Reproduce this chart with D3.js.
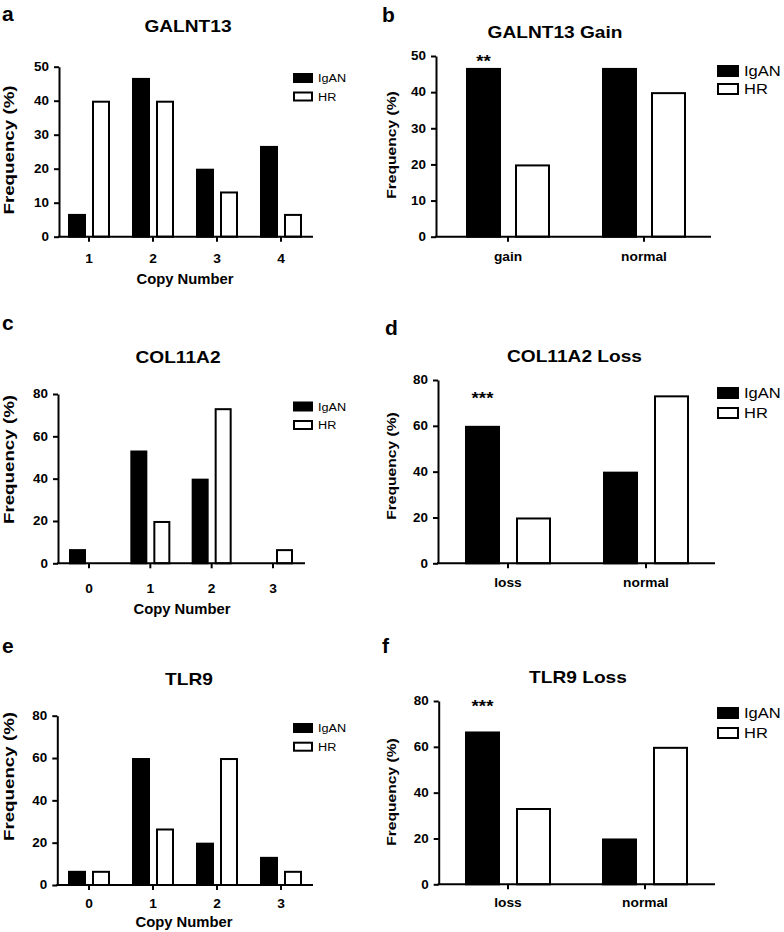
<!DOCTYPE html>
<html><head><meta charset="utf-8">
<script src="https://cdn.jsdelivr.net/npm/d3@7"></script>
<style>body{margin:0;background:#fff}svg{display:block}</style>
</head><body><svg id="c" width="784" height="932"></svg>
<script>
// ---------- data ----------
const seriesNames = ["IgAN", "HR"];
const copyNumA = ["1", "2", "3", "4"];
const copyNumCE = ["0", "1", "2", "3"];
const gainCats = ["gain", "normal"];
const lossCats = ["loss", "normal"];
const galnt13IgAN = [6.7, 46.7, 20, 26.7];
const galnt13HR = [40, 40, 13.3, 6.7];
const galnt13GainIgAN = [46.7, 46.7];
const galnt13GainHR = [20, 40];
const col11a2IgAN = [6.7, 53.3, 40, 0];
const col11a2HR = [0, 20, 73.3, 6.7];
const col11a2LossIgAN = [60, 40];
const col11a2LossHR = [20, 73.3];
const tlr9IgAN = [6.7, 60, 20, 13.3];
const tlr9HR = [6.7, 26.7, 60, 6.7];
const tlr9LossIgAN = [66.7, 20];
const tlr9LossHR = [33.3, 60];
const yTicks50 = [0, 10, 20, 30, 40, 50];
const yTicks80 = [0, 20, 40, 60, 80];
const sigLabels = ["**", "***", "***"];
const sigValues = [49.5, 73.5, 79];

// ---------- layout ----------
const FONT = "'Liberation Sans', Arial, Helvetica, sans-serif";
const svg = d3.select("#c");
svg.append("rect").attr("width", 784).attr("height", 932).attr("fill", "#fff");

function txt(g, x, y, s, o) {
  const tr = `translate(${x},${y})` + (o.rotate ? ` rotate(${o.rotate})` : "") + ` scale(${o.sx || 1},1)`;
  return g.append("text").attr("transform", tr)
    .attr("text-anchor", o.anchor || "start")
    .style("font-family", FONT).style("font-size", o.size + "px")
    .style("font-weight", o.weight || "bold").attr("fill", "#000").text(s);
}

const panels = [
  {letter: "a", lx: 2, ly: 21, title: "GALNT13", tx: 188, ty: 32, ax: 59, y0: 236.7, yTop: 66.7, yMax: 50, ticks: yTicks50,
   xEnd: 313, c1: 89, cN: 281, barW: 18, gap: 6, cats: copyNumA, vals: [galnt13IgAN, galnt13HR], xlb: 263,
   xTitle: [185, 284], ytx: 14, yty: 150, ytSize: 15, lg: [293, 73, 20, 10, 18.5, 11.5], sig: -1},
  {letter: "b", lx: 382, ly: 22, title: "GALNT13 Gain", tx: 555, ty: 38, ax: 436, y0: 236.7, yTop: 56, yMax: 50, ticks: yTicks50,
   xEnd: 711, c1: 508, cN: 644, barW: 35, gap: 14, cats: gainCats, vals: [galnt13GainIgAN, galnt13GainHR], xlb: 261,
   xTitle: null, ytx: 395.5, yty: 145, ytSize: 12.5, lg: [717, 65, 22, 12, 18, 15], sig: 0},
  {letter: "c", lx: 2, ly: 330, title: "COL11A2", tx: 178, ty: 363, ax: 58, y0: 563.3, yTop: 394, yMax: 80, ticks: yTicks80,
   xEnd: 305, c1: 89, cN: 273, barW: 17, gap: 6, cats: copyNumCE, vals: [col11a2IgAN, col11a2HR], xlb: 593,
   xTitle: [182, 614], ytx: 14, yty: 459.5, ytSize: 15, lg: [293, 401.5, 20, 10, 18.5, 11.5], sig: -1},
  {letter: "d", lx: 385, ly: 335, title: "COL11A2 Loss", tx: 574.5, ty: 362, ax: 438, y0: 563.3, yTop: 380, yMax: 80, ticks: yTicks80,
   xEnd: 715, c1: 508, cN: 646, barW: 35, gap: 16, cats: lossCats, vals: [col11a2LossIgAN, col11a2LossHR], xlb: 587,
   xTitle: null, ytx: 395.5, yty: 466, ytSize: 12.5, lg: [717, 387, 22, 12, 20, 15], sig: 1},
  {letter: "e", lx: 2, ly: 653, title: "TLR9", tx: 189, ty: 685, ax: 57.3, y0: 885, yTop: 715.7, yMax: 80, ticks: yTicks80,
   xEnd: 313, c1: 89, cN: 281, barW: 18, gap: 6, cats: copyNumCE, vals: [tlr9IgAN, tlr9HR], xlb: 908,
   xTitle: [184, 927], ytx: 14, yty: 776.5, ytSize: 15, lg: [293, 723, 20, 10, 18.7, 11.5], sig: -1},
  {letter: "f", lx: 382, ly: 653, title: "TLR9 Loss", tx: 578, ty: 683, ax: 438.7, y0: 884.3, yTop: 701, yMax: 80, ticks: yTicks80,
   xEnd: 715, c1: 508, cN: 645, barW: 35, gap: 16, cats: lossCats, vals: [tlr9LossIgAN, tlr9LossHR], xlb: 907,
   xTitle: null, ytx: 395.5, yty: 792, ytSize: 12.5, lg: [717, 707, 22, 12, 20, 15], sig: 2}
];

panels.forEach(p => {
  const g = svg.append("g");
  const n = p.cats.length;
  const step = (p.cN - p.c1) / (n - 1);
  const x = d3.scaleBand().domain(p.cats).range([p.c1 - step / 2, p.cN + step / 2]);
  const half = p.barW + p.gap / 2;
  const xi = d3.scaleBand().domain(seriesNames).range([-half, half]).paddingInner(p.gap / (p.barW + p.gap));
  const y = d3.scaleLinear().domain([0, p.yMax]).range([p.y0, p.yTop]);

  // bars
  seriesNames.forEach((s, si) => {
    const rows = p.cats.map((c, i) => ({c, v: p.vals[si][i]})).filter(d => d.v > 0);
    g.selectAll(null).data(rows).enter().append("rect")
      .attr("x", d => x(d.c) + x.bandwidth() / 2 + xi(s) + 1)
      .attr("y", d => y(d.v) + 1)
      .attr("width", xi.bandwidth() - 2)
      .attr("height", d => p.y0 - y(d.v) - 1)
      .attr("fill", si === 0 ? "#000" : "#fff")
      .attr("stroke", "#000").attr("stroke-width", 2);
  });

  // y axis
  const ya = g.append("g").attr("transform", `translate(${p.ax},0)`)
    .call(d3.axisLeft(y).tickValues(p.ticks).tickSize(5).tickSizeOuter(0).tickPadding(4));
  ya.select(".domain").attr("stroke-width", 2);
  ya.selectAll(".tick line").attr("stroke-width", 2);
  ya.selectAll("text").style("font-family", FONT).style("font-size", "12px").style("font-weight", "bold")
    .attr("fill", "#000").attr("transform", "scale(1.12,1)");

  // x axis
  const xa = g.append("g").attr("transform", `translate(0,${p.y0})`)
    .call(d3.axisBottom(x).tickSize(5).tickSizeOuter(0));
  xa.select(".domain").remove();
  xa.append("line").attr("x1", p.ax - 1).attr("x2", p.xEnd).attr("stroke", "#000").attr("stroke-width", 2);
  xa.selectAll(".tick line").attr("stroke-width", 2);
  xa.selectAll("text").style("font-family", FONT).style("font-size", "12.5px").style("font-weight", "bold")
    .attr("fill", "#000").attr("y", p.xlb - p.y0).attr("dy", 0).attr("transform", "scale(1.1,1)");

  // titles
  txt(g, p.lx, p.ly, p.letter, {size: 20, sx: 1.05});
  txt(g, p.tx, p.ty, p.title, {size: 16.5, sx: 1.16, anchor: "middle"});
  if (p.xTitle) txt(g, p.xTitle[0], p.xTitle[1], "Copy Number", {size: 14, sx: 1.06, anchor: "middle"});
  txt(g, p.ytx, p.yty, "Frequency (%)", {size: p.ytSize, sx: 1.25, anchor: "middle", rotate: -90});

  // legend
  const [lx, ly, lw, lh, ldy, lfs] = p.lg;
  seriesNames.forEach((s, si) => {
    g.append("rect").attr("x", lx + 1).attr("y", ly + si * ldy + 1).attr("width", lw - 2).attr("height", lh - 2)
      .attr("fill", si === 0 ? "#000" : "#fff").attr("stroke", "#000").attr("stroke-width", 2);
    txt(g, lx + lw + 5, ly + si * ldy + lh / 2 + lfs * 0.36, s, {size: lfs, weight: "normal", sx: 1.1});
  });

  // significance
  if (p.sig >= 0) {
    const cx = x(p.cats[0]) + x.bandwidth() / 2 + xi(seriesNames[0]) + xi.bandwidth() / 2;
    txt(g, cx, y(sigValues[p.sig]) + 9, sigLabels[p.sig], {size: 17, anchor: "middle", sx: 1.1});
  }
});
</script></body></html>
